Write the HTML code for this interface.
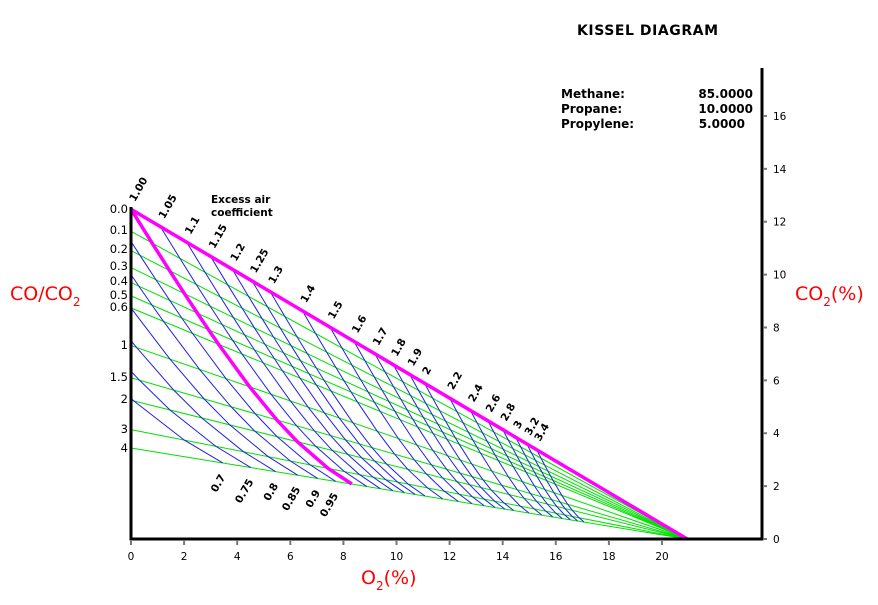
<!DOCTYPE html>
<html><head><meta charset="utf-8">
<style>
html,body{margin:0;padding:0;background:#fff;}
svg{display:block;}
text{font-family:"DejaVu Sans","Liberation Sans",sans-serif;}
</style></head>
<body>
<svg id="s" width="878" height="605" xmlns="http://www.w3.org/2000/svg">
<g id="green"></g>
<g id="blue"></g>
<g id="mag"></g>
<g id="lbl" font-size="10.5" font-weight="bold" fill="#000"></g>
<line x1="131" y1="207" x2="131" y2="540.5" stroke="#000" stroke-width="3"/>
<line x1="129.5" y1="539" x2="763" y2="539" stroke="#000" stroke-width="3"/>
<line x1="762" y1="68" x2="762" y2="540.5" stroke="#000" stroke-width="3"/>
<g id="ticks" stroke="#777" stroke-width="2"></g>
<g id="tl" font-size="10.5" fill="#000"></g>
<g font-size="11.5" fill="#000" text-anchor="end" id="left"></g>
<text x="577" y="35" font-size="14" font-weight="bold" textLength="141">KISSEL DIAGRAM</text>
<g font-size="12" font-weight="bold">
<text x="561" y="98">Methane:</text><text x="753" y="98" text-anchor="end">85.0000</text>
<text x="561" y="113">Propane:</text><text x="753" y="113" text-anchor="end">10.0000</text>
<text x="561" y="128">Propylene:</text><text x="745" y="128" text-anchor="end">5.0000</text>
</g>
<text x="211" y="203" font-size="10.5" font-weight="bold">Excess air</text>
<text x="211" y="216" font-size="10.5" font-weight="bold">coefficient</text>
<text x="10" y="300" font-size="19" fill="#f00">CO/CO<tspan font-size="12" dy="6">2</tspan></text>
<text x="795" y="300" font-size="19" fill="#f00">CO<tspan font-size="12" dy="6">2</tspan><tspan dy="-6">(%)</tspan></text>
<text x="361" y="584" font-size="19" fill="#f00">O<tspan font-size="12" dy="6">2</tspan><tspan dy="-6">(%)</tspan></text>
</svg>
<script>
var NS="http://www.w3.org/2000/svg";
function X(o){return 131+o*26.55;}
function Y(c){return 539-c*26.44;}
var O0=2.425;
function k(r){return 0.4+0.15*r;}
function pt(l,r){
 var cco=1.3*r/(1+r), cco2=1.3/(1+r), kk=k(r), h2=kk*cco;
 var o2=(l-1)*O0+(1+kk)*cco/2; if(o2<0)o2=0;
 var V=9.122*l+1.3+h2+o2;
 return [X(o2/V*100),Y(cco2/V*100)];
}
function rmin(l){
 if(l>=1)return 0;
 var a=0,b=4;
 for(var i=0;i<60;i++){var m=(a+b)/2;var c=1.3*m/(1+m);var v=(l-1)*O0+(1+k(m))*c/2; if(v<0)a=m;else b=m;}
 return (a+b)/2;
}
function el(t,at,p){var e=document.createElementNS(NS,t);for(var q in at)e.setAttribute(q,at[q]);(p||document.getElementById("s")).appendChild(e);return e;}
var G=document.getElementById("green"),B=document.getElementById("blue"),M=document.getElementById("mag"),L=document.getElementById("lbl");
var rs=[0.1,0.2,0.3,0.4,0.5,0.6,1,1.5,2,3,4];
var rall=[0].concat(rs);
rs.forEach(function(r){
 var cco=1.3*r/(1+r);var kk=k(r);var l=1-(1+kk)*cco/2/O0;
 var p=pt(l,r);
 el("line",{x1:131,y1:p[1],x2:X(20.95),y2:539,stroke:"#00e000","stroke-width":1},G);
});
var lams=[0.7,0.75,0.8,0.85,0.9,0.95,1.0,1.05,1.1,1.15,1.2,1.25,1.3,1.4,1.5,1.6,1.7,1.8,1.9,2,2.2,2.4,2.6,2.8,3,3.2,3.4];
var labs={0.7:"0.7",0.75:"0.75",0.8:"0.8",0.85:"0.85",0.9:"0.9",0.95:"0.95",1:"1.00"};
lams.forEach(function(l){
 var r0=rmin(l),pts=[pt(l,r0)];
 rall.forEach(function(r){if(r>r0+1e-9)pts.push(pt(l,r));});
 var d=pts.map(function(p){return p[0].toFixed(2)+","+p[1].toFixed(2);}).join(" ");
 if(l==1)el("polyline",{points:d,fill:"none",stroke:"#ff00ff","stroke-width":3.5},M);
 else el("polyline",{points:d,fill:"none",stroke:"#2020e0","stroke-width":1},B);
 var s=labs[l]||String(l);
 if(l>=1){var p=pts[0];var x=p[0]+4,y=p[1]-7;
  el("text",{x:x,y:y,transform:"rotate(-60 "+x+" "+y+")"},L).textContent=s;}
 else{var p=pts[pts.length-1];var x=p[0]+3,y=p[1]+14;
  el("text",{x:x,y:y,"text-anchor":"end",transform:"rotate(-60 "+x+" "+y+")"},L).textContent=s;}
});
el("line",{x1:131,y1:pt(1,0)[1],x2:X(20.95),y2:539,stroke:"#ff00ff","stroke-width":3.5},M);
var T=document.getElementById("ticks"),TL=document.getElementById("tl");
for(var v=0;v<=20;v+=2){var x=X(v);el("line",{x1:x,y1:540,x2:x,y2:545},T);
 el("text",{x:x,y:560,"text-anchor":"middle"},TL).textContent=v;}
for(var v=0;v<=16;v+=2){var y=Y(v);el("line",{x1:763,y1:y,x2:767,y2:y},T);
 el("text",{x:773,y:y+4},TL).textContent=v;}
var LF=document.getElementById("left");
[["0.0",209],["0.1",230],["0.2",249],["0.3",266],["0.4",281],["0.5",295],["0.6",307],["1",345],["1.5",377],["2",399],["3",429],["4",448]].forEach(function(a){
 el("text",{x:128,y:a[1]+4},LF).textContent=a[0];});
</script>
</body></html>
